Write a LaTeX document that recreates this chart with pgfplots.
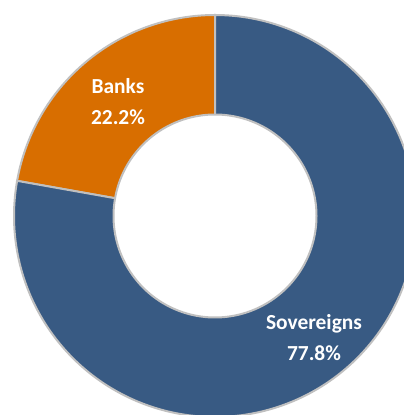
\documentclass[border=0pt]{standalone}
\usepackage{pgfplots}
\pgfplotsset{compat=1.18}
\usepackage{fontspec}
\setmainfont{Carlito}

\definecolor{sovblue}{HTML}{385A83}
\definecolor{bankorange}{HTML}{D86E00}
\definecolor{edgegray}{HTML}{C0C0C0}

% slice shares (%)
\def\banks{22.2}
\def\sovereigns{77.8}
\def\Rout{201}
\def\Rin{101.5}

\begin{document}
\begin{tikzpicture}
\pgfmathsetmacro{\aStart}{90}
\pgfmathsetmacro{\aMid}{90+3.6*\banks}
\pgfmathsetmacro{\aEnd}{\aMid+3.6*\sovereigns}
\begin{axis}[
    scale only axis,
    width=404bp, height=415bp,
    xmin=-215, xmax=189,
    ymin=-199, ymax=216,
    hide axis,
    clip=true,
]
\path (rel axis cs:0,0) rectangle (rel axis cs:1,1);

% Banks wedge
\addplot[fill=bankorange, draw=edgegray, line width=2bp, domain=\aStart:\aMid, samples=80]
    ({\Rout*cos(x)},{\Rout*sin(x)}) -- (axis cs:0,0) -- cycle;
% Sovereigns wedge
\addplot[fill=sovblue, draw=edgegray, line width=2bp, domain=\aMid:\aEnd, samples=240]
    ({\Rout*cos(x)},{\Rout*sin(x)}) -- (axis cs:0,0) -- cycle;
% hole
\addplot[fill=white, draw=edgegray, line width=2bp, domain=0:360, samples=200]
    ({\Rin*cos(x)},{\Rin*sin(x)}) -- cycle;

\node[text=white, font=\fontsize{21.5}{31}\selectfont\bfseries, align=center]
    at (axis cs:-97,114.5) {Banks\\22.2\%};
\node[text=white, font=\fontsize{21.5}{31}\selectfont\bfseries, align=center]
    at (axis cs:99,-122) {Sovereigns\\77.8\%};
\end{axis}
\end{tikzpicture}
\end{document}
